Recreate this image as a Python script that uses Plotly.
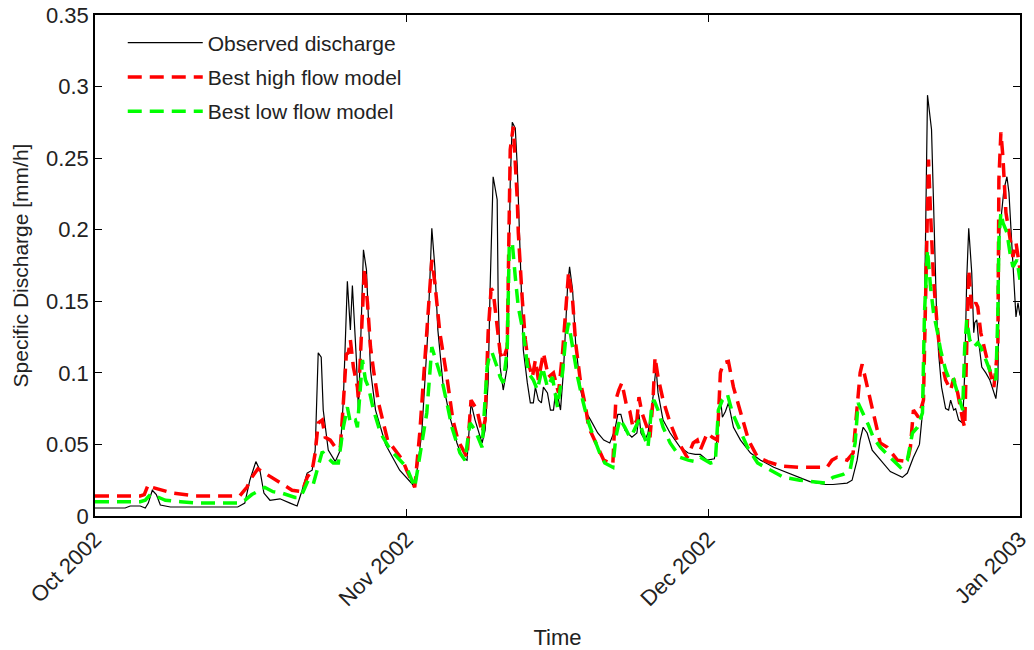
import pandas as pd
import plotly.graph_objects as go

start_date = "2002-10-01"

# Observed discharge (days since 2002-10-01, mm/h)
obs_day = [0, 3.0, 3.5, 4.5, 5.0, 5.3, 5.7, 6.1, 6.5, 7.5, 14.2, 14.9, 15.4, 16.0, 16.4, 16.8, 17.4, 18.4,
           19.4, 20.1, 20.6, 21.1, 21.6, 21.9, 22.2, 22.5, 22.7, 23.2, 23.9, 24.4, 24.7, 25.1, 25.4, 25.6,
           26.0, 26.2, 26.4, 26.7, 27.0, 27.4, 27.9, 28.9, 30.3, 31.6, 32.0, 32.5, 33.1, 33.5, 33.8, 34.1,
           34.6, 35.3, 36.0, 36.5, 37.0, 37.4, 37.8, 38.5, 38.8, 39.1, 39.3, 39.6, 40.0, 40.1, 40.3, 40.6,
           41.0, 41.3, 41.5, 41.8, 42.0, 42.3, 42.6, 43.0, 43.3, 43.6, 43.8, 44.1, 44.4, 44.6, 45.0, 45.3,
           45.6, 45.8, 46.1, 46.3, 46.6, 47.0, 47.2, 47.5, 47.8, 48.3, 48.8, 49.3, 50.0, 50.6, 51.2, 51.7,
           52.0, 52.3, 52.7, 53.4, 53.9, 54.1, 54.3, 54.7, 55.0, 55.5, 55.8, 56.0, 56.5, 57.2, 58.2, 59.0,
           59.7, 60.2, 60.9, 61.6, 61.9, 62.2, 62.4, 62.7, 63.0, 63.5, 64.2, 65.2, 66.2, 67.5, 68.9, 69.9,
           71.1, 72.6, 73.4, 74.8, 75.3, 75.8, 76.1, 76.4, 76.8, 77.3, 78.1, 79.1, 80.3, 80.8, 81.4, 82.0,
           82.3, 82.4, 82.5, 82.8, 83.2, 83.4, 83.7, 83.9, 84.2, 84.6, 84.9, 85.1, 85.4, 85.6, 85.9, 86.3,
           86.5, 86.7, 86.9, 87.2, 87.4, 87.5, 87.7, 87.9, 88.2, 88.6, 89.0, 89.6, 89.8, 90.0, 90.4, 90.7,
           90.9, 91.2, 91.4, 91.6, 91.8, 92.0]
obs_val = [0.0056, 0.0056, 0.007, 0.007, 0.0056, 0.009, 0.018, 0.015, 0.0077, 0.0063, 0.0063, 0.009, 0.025,
           0.038, 0.032, 0.016, 0.011, 0.012, 0.009, 0.007, 0.018, 0.030, 0.032, 0.046, 0.114, 0.111, 0.074,
           0.046, 0.038, 0.046, 0.081, 0.164, 0.130, 0.161, 0.109, 0.074, 0.116, 0.186, 0.172, 0.102, 0.074,
           0.050, 0.032, 0.022, 0.030, 0.058, 0.128, 0.201, 0.174, 0.130, 0.093, 0.069, 0.051, 0.041, 0.039,
           0.079, 0.067, 0.051, 0.060, 0.093, 0.160, 0.237, 0.221, 0.151, 0.104, 0.088, 0.104, 0.233, 0.275,
           0.271, 0.244, 0.174, 0.116, 0.093, 0.079, 0.079, 0.090, 0.081, 0.079, 0.090, 0.086, 0.074, 0.074,
           0.086, 0.081, 0.074, 0.102, 0.160, 0.174, 0.158, 0.121, 0.088, 0.073, 0.067, 0.058, 0.053, 0.051,
           0.060, 0.071, 0.071, 0.060, 0.055, 0.058, 0.071, 0.058, 0.053, 0.058, 0.083, 0.104, 0.086, 0.067,
           0.058, 0.048, 0.044, 0.043, 0.043, 0.039, 0.040, 0.055, 0.083, 0.069, 0.073, 0.079, 0.062, 0.053,
           0.044, 0.039, 0.034, 0.030, 0.027, 0.024, 0.022, 0.022, 0.023, 0.025, 0.039, 0.053, 0.062, 0.058,
           0.046, 0.039, 0.031, 0.027, 0.030, 0.041, 0.050, 0.072, 0.076, 0.142, 0.294, 0.270, 0.212, 0.142,
           0.114, 0.090, 0.075, 0.074, 0.081, 0.074, 0.075, 0.067, 0.065, 0.100, 0.165, 0.201, 0.170, 0.128,
           0.135, 0.137, 0.121, 0.104, 0.100, 0.095, 0.082, 0.095, 0.200, 0.228, 0.237, 0.226, 0.188, 0.158,
           0.139, 0.149, 0.140]

# Best high flow model
high_day = [0, 4.5, 4.9, 5.3, 5.7, 6.7, 7.7, 10.0, 14.4, 15.1, 15.6, 16.2, 16.9, 17.6, 18.2, 19.6, 20.6,
            21.1, 21.6, 21.9, 22.2, 22.6, 22.9, 23.4, 24.1, 24.4, 24.7, 25.0, 25.2, 25.4, 25.7, 26.1, 26.2,
            26.5, 26.8, 27.1, 27.4, 27.7, 28.2, 29.1, 30.0, 30.6, 31.0, 31.8, 32.3, 32.6, 33.1, 33.5, 33.8,
            34.3, 35.0, 35.6, 36.1, 37.0, 37.4, 38.0, 38.5, 38.8, 39.1, 39.4, 39.6, 40.0, 40.3, 40.6, 41.0,
            41.3, 41.6, 42.0, 42.1, 42.5, 42.8, 43.1, 43.5, 43.8, 44.1, 44.6, 45.1, 45.6, 46.1, 46.5, 46.8,
            47.1, 47.5, 47.8, 48.3, 48.8, 49.1, 50.0, 50.6, 51.5, 51.8, 52.1, 52.4, 52.9, 53.2, 53.5, 53.9,
            54.1, 54.4, 54.9, 55.2, 55.5, 55.7, 56.0, 56.5, 57.2, 57.9, 58.9, 59.5, 59.9, 60.2, 60.9, 61.4,
            61.9, 62.2, 62.5, 63.0, 63.5, 64.2, 65.0, 65.9, 66.9, 68.2, 70.1, 72.8, 73.3, 73.8, 74.8, 75.4,
            75.8, 76.1, 76.3, 76.8, 77.4, 78.1, 78.8, 79.8, 80.8, 81.1, 81.4, 81.9, 82.4, 82.8, 82.9, 83.1,
            83.4, 83.8, 84.1, 84.6, 85.1, 85.4, 85.8, 86.3, 86.5, 86.7, 86.9, 87.2, 87.6, 87.8, 88.1, 88.5,
            88.9, 89.4, 89.8, 89.9, 90.1, 90.3, 90.6, 91.0, 91.3, 91.6, 91.9, 92.0]
high_val = [0.014, 0.014, 0.015, 0.022, 0.020, 0.018, 0.016, 0.014, 0.014, 0.020, 0.027, 0.033, 0.030, 0.027,
            0.024, 0.018, 0.017, 0.027, 0.032, 0.044, 0.065, 0.067, 0.055, 0.053, 0.046, 0.048, 0.079, 0.113,
            0.114, 0.123, 0.104, 0.090, 0.081, 0.125, 0.173, 0.149, 0.118, 0.102, 0.079, 0.053, 0.044, 0.039,
            0.032, 0.020, 0.058, 0.088, 0.139, 0.179, 0.163, 0.128, 0.097, 0.067, 0.053, 0.041, 0.081, 0.074,
            0.058, 0.067, 0.128, 0.159, 0.157, 0.130, 0.114, 0.109, 0.118, 0.256, 0.272, 0.221, 0.198, 0.151,
            0.123, 0.107, 0.097, 0.109, 0.095, 0.114, 0.097, 0.100, 0.086, 0.114, 0.139, 0.170, 0.151, 0.121,
            0.093, 0.076, 0.062, 0.048, 0.039, 0.036, 0.081, 0.088, 0.093, 0.076, 0.073, 0.062, 0.067, 0.083,
            0.072, 0.062, 0.055, 0.081, 0.111, 0.097, 0.081, 0.065, 0.053, 0.041, 0.051, 0.053, 0.046, 0.058,
            0.055, 0.053, 0.100, 0.107, 0.108, 0.090, 0.072, 0.053, 0.041, 0.038, 0.035, 0.034, 0.034, 0.039,
            0.041, 0.039, 0.044, 0.079, 0.100, 0.106, 0.090, 0.072, 0.051, 0.048, 0.039, 0.038, 0.048, 0.074,
            0.069, 0.081, 0.223, 0.249, 0.212, 0.165, 0.130, 0.111, 0.095, 0.088, 0.096, 0.086, 0.067, 0.062,
            0.118, 0.172, 0.144, 0.149, 0.146, 0.128, 0.116, 0.104, 0.090, 0.118, 0.235, 0.268, 0.251, 0.212,
            0.195, 0.181, 0.191, 0.174, 0.172]

# Best low flow model
low_day = [0, 4.5, 5.0, 5.5, 6.0, 7.0, 8.5, 10.4, 14.4, 14.9, 15.6, 16.1, 16.9, 17.7, 18.6, 19.9, 20.4, 20.7,
           21.2, 21.7, 22.1, 22.4, 22.6, 23.1, 23.7, 24.2, 24.7, 25.1, 25.4, 25.9, 26.1, 26.3, 26.6, 26.9,
           27.2, 27.7, 28.4, 29.4, 30.3, 31.0, 31.8, 32.5, 33.0, 33.5, 34.0, 34.5, 35.0, 35.5, 36.3, 36.8,
           37.3, 37.8, 38.5, 39.0, 39.3, 39.5, 40.0, 40.3, 40.6, 41.0, 41.2, 41.5, 41.8, 42.1, 42.6, 43.1,
           43.6, 44.0, 44.5, 45.0, 45.5, 46.0, 46.5, 46.8, 47.1, 47.5, 48.0, 48.5, 49.0, 49.6, 50.2, 50.7,
           51.5, 51.8, 52.2, 52.7, 53.2, 53.5, 54.1, 54.5, 55.0, 55.4, 55.6, 56.0, 56.5, 57.2, 58.2, 59.0,
           59.7, 60.2, 61.2, 61.7, 62.0, 62.4, 62.9, 63.4, 64.0, 64.9, 65.9, 67.2, 68.5, 70.1, 71.4, 72.6,
           73.4, 74.4, 75.1, 75.6, 75.9, 76.4, 76.9, 77.4, 78.1, 78.8, 80.1, 80.8, 81.3, 81.8, 82.3, 82.5,
           82.8, 83.1, 83.4, 83.8, 84.1, 84.6, 85.1, 85.4, 85.8, 86.3, 86.5, 86.7, 87.0, 87.4, 87.8, 88.1,
           88.6, 89.1, 89.6, 89.8, 89.9, 90.1, 90.3, 90.7, 91.0, 91.3, 91.7, 92.0]
low_val = [0.010, 0.010, 0.011, 0.015, 0.014, 0.011, 0.010, 0.009, 0.009, 0.011, 0.015, 0.017, 0.020, 0.017,
           0.016, 0.013, 0.013, 0.017, 0.025, 0.022, 0.032, 0.041, 0.045, 0.041, 0.037, 0.037, 0.062, 0.076,
           0.065, 0.067, 0.062, 0.081, 0.109, 0.095, 0.090, 0.074, 0.058, 0.046, 0.039, 0.034, 0.020, 0.051,
           0.072, 0.118, 0.107, 0.095, 0.079, 0.062, 0.044, 0.039, 0.065, 0.060, 0.048, 0.104, 0.114, 0.114,
           0.104, 0.097, 0.093, 0.116, 0.188, 0.191, 0.167, 0.146, 0.128, 0.100, 0.095, 0.088, 0.104, 0.090,
           0.097, 0.076, 0.100, 0.123, 0.135, 0.118, 0.097, 0.081, 0.067, 0.055, 0.044, 0.037, 0.034, 0.055,
           0.068, 0.062, 0.055, 0.058, 0.067, 0.058, 0.048, 0.079, 0.081, 0.074, 0.062, 0.051, 0.041, 0.039,
           0.038, 0.041, 0.037, 0.038, 0.074, 0.081, 0.085, 0.072, 0.062, 0.048, 0.037, 0.032, 0.027, 0.025,
           0.024, 0.023, 0.027, 0.029, 0.032, 0.051, 0.079, 0.072, 0.064, 0.055, 0.048, 0.043, 0.034, 0.039,
           0.058, 0.062, 0.072, 0.142, 0.186, 0.160, 0.142, 0.128, 0.116, 0.102, 0.093, 0.095, 0.086, 0.074,
           0.118, 0.137, 0.123, 0.118, 0.121, 0.118, 0.109, 0.100, 0.095, 0.142, 0.193, 0.212, 0.205, 0.198,
           0.184, 0.174, 0.179, 0.165]

series_names = ["Observed discharge", "Best high flow model", "Best low flow model"]
month_ticks = ["2002-10-01", "2002-11-01", "2002-12-01", "2003-01-01"]
month_labels = ["Oct 2002", "Nov 2002", "Dec 2002", "Jan 2003"]
y_ticks = [0, 0.05, 0.1, 0.15, 0.2, 0.25, 0.3, 0.35]
y_labels = ["0", "0.05", "0.1", "0.15", "0.2", "0.25", "0.3", "0.35"]


def to_dates(days):
    return pd.Timestamp(start_date) + pd.to_timedelta(days, unit="D")


FONT = "Liberation Sans, Arial, Helvetica, sans-serif"
TXT = "#222222"

fig = go.Figure()
fig.add_trace(go.Scatter(x=to_dates(obs_day), y=obs_val, mode="lines", name=series_names[0],
                         line=dict(color="black", width=1.2), legendgroup="a"))
fig.add_trace(go.Scatter(x=to_dates(high_day), y=high_val, mode="lines", name=series_names[1],
                         line=dict(color="#ff0000", width=3.5, dash="14px,8px"), legendgroup="b"))
fig.add_trace(go.Scatter(x=to_dates(low_day), y=low_val, mode="lines", name=series_names[2],
                         line=dict(color="#00ff00", width=3.5, dash="14px,8px"), legendgroup="c"))

axis_common = dict(showline=True, linecolor="black", linewidth=1.5, mirror="ticks", ticks="inside",
                   ticklen=7, tickcolor="black", tickwidth=1, showgrid=False, zeroline=False,
                   automargin=False, ticklabeloverflow="allow",
                   tickfont=dict(family=FONT, size=22, color=TXT))

fig.update_xaxes(type="date", range=[month_ticks[0], month_ticks[-1]], tickvals=month_ticks,
                 ticktext=month_labels, tickangle=-45,
                 title=dict(text="Time", font=dict(family=FONT, size=22, color=TXT), standoff=20),
                 **axis_common)
fig.update_yaxes(range=[0, 0.35], tickvals=y_ticks, ticktext=y_labels,
                 title=dict(text="Specific Discharge [mm/h]", font=dict(family=FONT, size=21, color=TXT),
                            standoff=12),
                 **axis_common)

fig.update_layout(
    width=1034, height=650,
    margin=dict(l=95, r=14, t=15, b=134),
    paper_bgcolor="white", plot_bgcolor="white",
    font=dict(family=FONT, size=21, color=TXT),
    legend=dict(x=0.03, y=0.985, xanchor="left", yanchor="top", bgcolor="rgba(0,0,0,0)",
                font=dict(family=FONT, size=21, color=TXT), tracegroupgap=4, itemwidth=75),
    showlegend=True,
)

# remove the browser's default 8px body margin so the figure fills the window exactly
fig.write_html("out.html", config={"displayModeBar": False},
               post_script="document.body.style.margin='0';document.body.style.overflow='hidden';")
